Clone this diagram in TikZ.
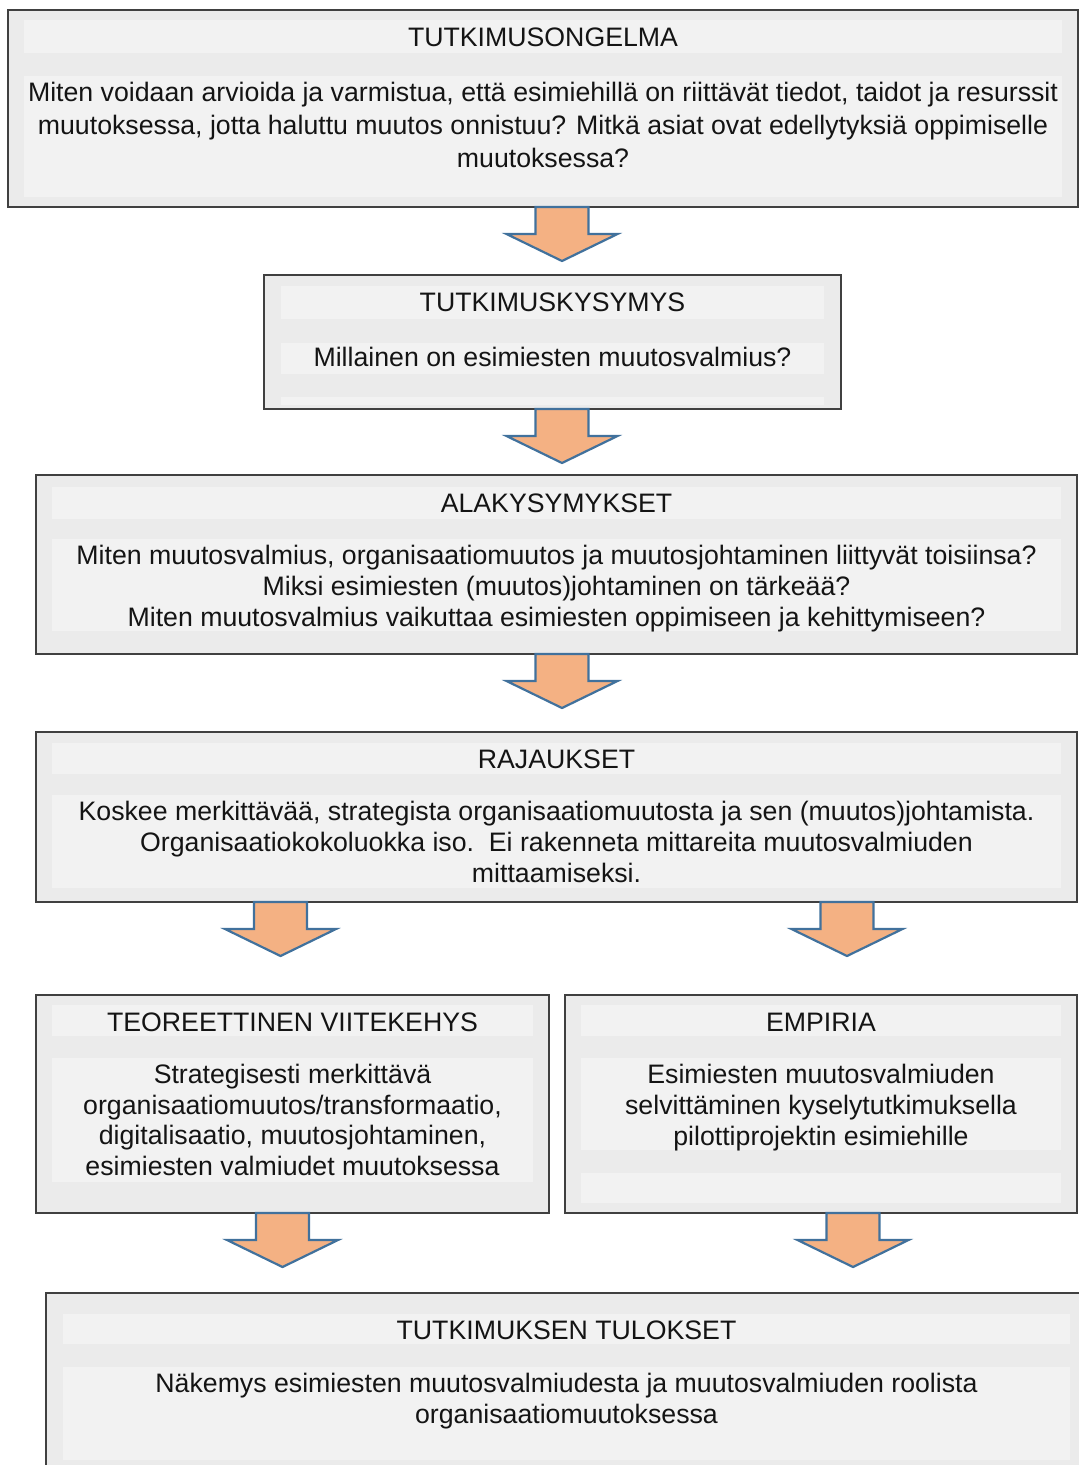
\documentclass[tikz,border=0pt]{standalone}
\usepackage{fontspec}
\setmainfont{Liberation Sans}
\definecolor{boxfill}{HTML}{EBEBEB}
\definecolor{bandfill}{HTML}{F2F2F2}
\definecolor{boxline}{HTML}{404040}
\definecolor{arrfill}{HTML}{F4B183}
\definecolor{arrline}{HTML}{41719C}
\tikzset{
  box/.style={draw=boxline, line width=2.5pt, fill=boxfill, outer sep=0pt, inner sep=0pt, anchor=north west},
  band/.style={fill=bandfill},
  txt/.style={font=\fontsize{26.7}{30.7}\selectfont, text=black!92, inner sep=0pt, align=center},
  txtwide/.style={font=\fontsize{26.7}{33}\selectfont, text=black!92, inner sep=0pt, align=center},
  blockarrow/.style={draw=arrline, fill=arrfill, line width=2.2pt, line join=miter},
}
\newcommand\flowarrow[3]{%
  \coordinate (#2#3s) at (#1,0 |- #2.south);
  \draw[blockarrow] (#2#3s) ++(-26.5,0) -- ++(0,27) -- ++(-29,0) -- ++(55.5,27)
    -- ++(55.5,-27) -- ++(-29,0) -- ++(0,-27) -- cycle;
}
\begin{document}
\begin{tikzpicture}[x=1pt,y=-1pt]
\useasboundingbox (0,0) rectangle (1079,1465);
\clip (0,0) rectangle (1079,1465);

% Box 1
\node[box, minimum width=1070pt, minimum height=197pt] (b1) at (8,10) {};
\fill[band] (24,20) rectangle (1062,53);
\fill[band] (24,76) rectangle (1062,197);
\node[txt] (b1t) at (543,37) {TUTKIMUSONGELMA};
\node[txtwide] (b1b) at (543,125) {Miten voidaan arvioida ja varmistua, että esimiehillä on riittävät tiedot, taidot ja resurssit\\muutoksessa, jotta haluttu muutos onnistuu? Mitkä asiat ovat edellytyksiä oppimiselle\\muutoksessa?};

% Box 2
\node[box, minimum width=577pt, minimum height=134pt] (b2) at (264,275) {};
\fill[band] (281,286) rectangle (824,319);
\fill[band] (281,343) rectangle (824,374);
\fill[band] (281,397) rectangle (824,405);
\node[txt] (b2t) at (552.5,302) {TUTKIMUSKYSYMYS};
\node[txt] (b2b) at (552.5,357) {Millainen on esimiesten muutosvalmius?};

% Box 3
\node[box, minimum width=1041pt, minimum height=179pt] (b3) at (36,475) {};
\fill[band] (52,487) rectangle (1061,519);
\fill[band] (52,539) rectangle (1061,631);
\node[txt] (b3t) at (556.5,503) {ALAKYSYMYKSET};
\node[txt] (b3b) at (556.5,588.5) {Miten muutosvalmius, organisaatiomuutos ja muutosjohtaminen liittyvät toisiinsa?\\Miksi esimiesten (muutos)johtaminen on tärkeää?\\Miten muutosvalmius vaikuttaa esimiesten oppimiseen ja kehittymiseen?};

% Box 4
\node[box, minimum width=1041pt, minimum height=170pt] (b4) at (36,732) {};
\fill[band] (52,743) rectangle (1061,774);
\fill[band] (52,795) rectangle (1061,888);
\node[txt] (b4t) at (556.5,759) {RAJAUKSET};
\node[txt] (b4b) at (556.5,842) {Koskee merkittävää, strategista organisaatiomuutosta ja sen (muutos)johtamista.\\Organisaatiokokoluokka iso.\ \ Ei rakenneta mittareita muutosvalmiuden\\mittaamiseksi.};

% Box 5a
\node[box, minimum width=513pt, minimum height=218pt] (b5a) at (36,995) {};
\fill[band] (52,1005) rectangle (533,1036);
\fill[band] (52,1058) rectangle (533,1182);
\node[txt] (b5at) at (292.5,1022) {TEOREETTINEN VIITEKEHYS};
\node[txt] (b5ab) at (292.5,1120) {Strategisesti merkittävä\\organisaatiomuutos/transformaatio,\\digitalisaatio, muutosjohtaminen,\\esimiesten valmiudet muutoksessa};

% Box 5b
\node[box, minimum width=512pt, minimum height=218pt] (b5b) at (565,995) {};
\fill[band] (581,1005) rectangle (1061,1036);
\fill[band] (581,1058) rectangle (1061,1150);
\fill[band] (581,1173) rectangle (1061,1203);
\node[txt] (b5bt) at (821,1022) {EMPIRIA};
\node[txt] (b5bb) at (821,1107.5) {Esimiesten muutosvalmiuden\\selvittäminen kyselytutkimuksella\\pilottiprojektin esimiehille};

% Box 6
\node[box, minimum width=1041pt, minimum height=200pt] (b6) at (46,1293) {};
\fill[band] (63,1314) rectangle (1070,1344);
\fill[band] (63,1367) rectangle (1070,1460);
\node[txt] (b6t) at (566.5,1330) {TUTKIMUKSEN TULOKSET};
\node[txt] (b6b) at (566.5,1401) {Näkemys esimiesten muutosvalmiudesta ja muutosvalmiuden roolista\\organisaatiomuutoksessa};

% Arrows
\flowarrow{562}{b1}{b2}
\flowarrow{562}{b2}{b3}
\flowarrow{562}{b3}{b4}
\flowarrow{280.5}{b4}{b5a}
\flowarrow{847}{b4}{b5b}
\flowarrow{282.5}{b5a}{b6}
\flowarrow{853}{b5b}{b6}
\end{tikzpicture}
\end{document}
